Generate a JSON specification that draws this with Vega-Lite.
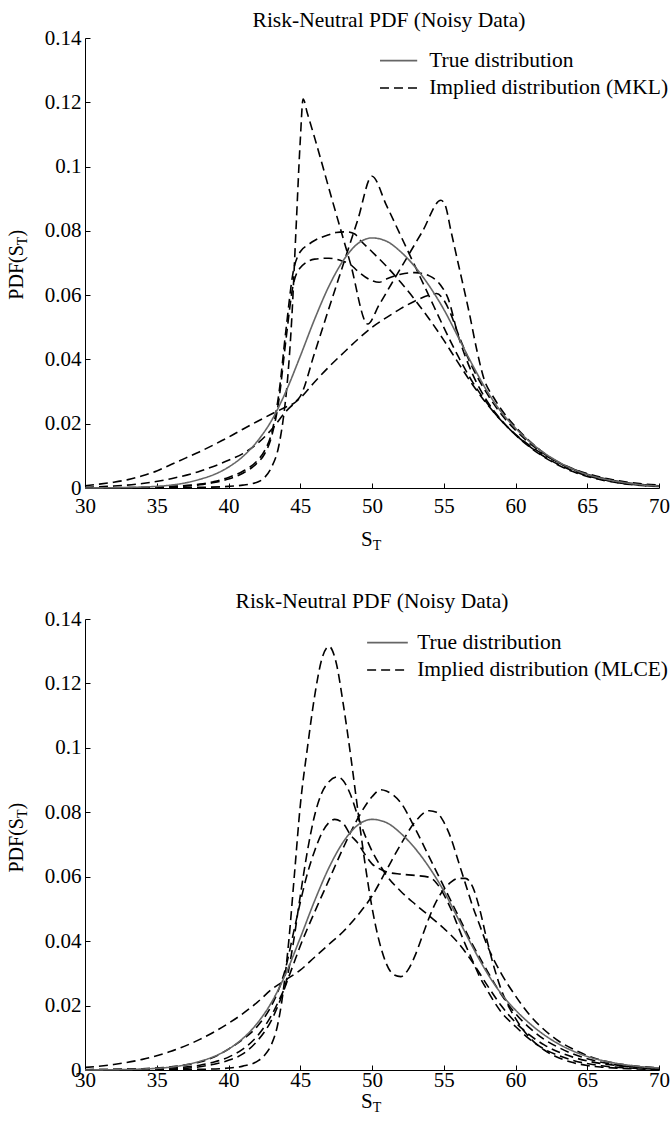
{
"$schema": "https://vega.github.io/schema/vega-lite/v6.json",
"background": "white",
"padding": {"left": 7, "top": 9, "right": 0, "bottom": 0},
"bounds": "flush",
"spacing": 131,
"config": {
  "font": "Liberation Serif",
  "view": {"stroke": null},
  "axis": {"grid": false, "domainColor": "#000000", "tickColor": "#000000", "labelColor": "#000000", "labelFont": "Liberation Serif", "labelFontSize": 21, "domainWidth": 1, "tickWidth": 1, "labelFlush": false},
  "title": {"font": "Liberation Serif", "fontSize": 21.5, "fontWeight": "normal", "color": "#000000", "frame": "group"},
  "text": {"font": "Liberation Serif", "color": "#000000"}
},
"datasets": {
"mkl": [
{"curve":"c1","S":30,"pdf":0},{"curve":"c1","S":36,"pdf":0.0001},{"curve":"c1","S":38,"pdf":0.0002},{"curve":"c1","S":40,"pdf":0.0005},{"curve":"c1","S":41,"pdf":0.0009},{"curve":"c1","S":42,"pdf":0.0018},{"curve":"c1","S":42.5,"pdf":0.0032},{"curve":"c1","S":43,"pdf":0.0065},{"curve":"c1","S":43.5,"pdf":0.013},{"curve":"c1","S":43.8,"pdf":0.021},{"curve":"c1","S":44.1,"pdf":0.033},{"curve":"c1","S":44.4,"pdf":0.052},{"curve":"c1","S":44.7,"pdf":0.08},{"curve":"c1","S":45,"pdf":0.108},{"curve":"c1","S":45.2,"pdf":0.121},{"curve":"c1","S":45.5,"pdf":0.1165},{"curve":"c1","S":46,"pdf":0.109},{"curve":"c1","S":47.2,"pdf":0.09},{"curve":"c1","S":48.5,"pdf":0.0698},{"curve":"c1","S":49.7,"pdf":0.051},{"curve":"c1","S":50.5,"pdf":0.057},{"curve":"c1","S":52,"pdf":0.0684},{"curve":"c1","S":53.5,"pdf":0.0797},{"curve":"c1","S":54.8,"pdf":0.0895},{"curve":"c1","S":55.1,"pdf":0.088},{"curve":"c1","S":55.5,"pdf":0.08},{"curve":"c1","S":56,"pdf":0.07},{"curve":"c1","S":56.8,"pdf":0.054},{"curve":"c1","S":57.3,"pdf":0.043},{"curve":"c1","S":57.8,"pdf":0.034},{"curve":"c1","S":58.5,"pdf":0.028},{"curve":"c1","S":59,"pdf":0.0245},{"curve":"c1","S":60,"pdf":0.019},{"curve":"c1","S":61,"pdf":0.0145},{"curve":"c1","S":62,"pdf":0.0108},{"curve":"c1","S":63,"pdf":0.0079},{"curve":"c1","S":64,"pdf":0.0057},{"curve":"c1","S":65,"pdf":0.004},{"curve":"c1","S":66,"pdf":0.0028},{"curve":"c1","S":67,"pdf":0.0019},{"curve":"c1","S":68,"pdf":0.0013},{"curve":"c1","S":69,"pdf":0.0009},{"curve":"c1","S":70,"pdf":0.0006},
{"curve":"c2","S":30,"pdf":0.0002},{"curve":"c2","S":32,"pdf":0.0006},{"curve":"c2","S":34,"pdf":0.0014},{"curve":"c2","S":36,"pdf":0.0029},{"curve":"c2","S":38,"pdf":0.0052},{"curve":"c2","S":39,"pdf":0.0068},{"curve":"c2","S":40,"pdf":0.0086},{"curve":"c2","S":41,"pdf":0.0107},{"curve":"c2","S":42,"pdf":0.0138},{"curve":"c2","S":43,"pdf":0.0182},{"curve":"c2","S":44,"pdf":0.0238},{"curve":"c2","S":44.6,"pdf":0.0265},{"curve":"c2","S":45,"pdf":0.0285},{"curve":"c2","S":46,"pdf":0.042},{"curve":"c2","S":47,"pdf":0.0559},{"curve":"c2","S":48,"pdf":0.0696},{"curve":"c2","S":49,"pdf":0.0833},{"curve":"c2","S":50,"pdf":0.097},{"curve":"c2","S":51,"pdf":0.088},{"curve":"c2","S":52,"pdf":0.0785},{"curve":"c2","S":53,"pdf":0.069},{"curve":"c2","S":54,"pdf":0.0595},{"curve":"c2","S":55,"pdf":0.05},{"curve":"c2","S":56,"pdf":0.041},{"curve":"c2","S":57,"pdf":0.033},{"curve":"c2","S":58,"pdf":0.0265},{"curve":"c2","S":59,"pdf":0.021},{"curve":"c2","S":60,"pdf":0.0167},{"curve":"c2","S":61,"pdf":0.0132},{"curve":"c2","S":62,"pdf":0.0103},{"curve":"c2","S":63,"pdf":0.0079},{"curve":"c2","S":64,"pdf":0.0059},{"curve":"c2","S":65,"pdf":0.0043},{"curve":"c2","S":66,"pdf":0.0031},{"curve":"c2","S":67,"pdf":0.0022},{"curve":"c2","S":68,"pdf":0.0015},{"curve":"c2","S":69,"pdf":0.001},{"curve":"c2","S":70,"pdf":0.0007},
{"curve":"c3","S":30,"pdf":0},{"curve":"c3","S":34,"pdf":0.0002},{"curve":"c3","S":36,"pdf":0.0005},{"curve":"c3","S":38,"pdf":0.0012},{"curve":"c3","S":39,"pdf":0.002},{"curve":"c3","S":40,"pdf":0.0033},{"curve":"c3","S":41,"pdf":0.0052},{"curve":"c3","S":42,"pdf":0.0085},{"curve":"c3","S":42.5,"pdf":0.0115},{"curve":"c3","S":43,"pdf":0.017},{"curve":"c3","S":43.5,"pdf":0.029},{"curve":"c3","S":44,"pdf":0.049},{"curve":"c3","S":44.5,"pdf":0.067},{"curve":"c3","S":45,"pdf":0.0735},{"curve":"c3","S":45.5,"pdf":0.0755},{"curve":"c3","S":46,"pdf":0.077},{"curve":"c3","S":47,"pdf":0.0788},{"curve":"c3","S":47.5,"pdf":0.0795},{"curve":"c3","S":48.2,"pdf":0.0797},{"curve":"c3","S":48.8,"pdf":0.079},{"curve":"c3","S":49.2,"pdf":0.077},{"curve":"c3","S":50,"pdf":0.0735},{"curve":"c3","S":51,"pdf":0.069},{"curve":"c3","S":52,"pdf":0.064},{"curve":"c3","S":53,"pdf":0.0585},{"curve":"c3","S":54,"pdf":0.0525},{"curve":"c3","S":55,"pdf":0.046},{"curve":"c3","S":56,"pdf":0.039},{"curve":"c3","S":57,"pdf":0.0322},{"curve":"c3","S":58,"pdf":0.0262},{"curve":"c3","S":59,"pdf":0.021},{"curve":"c3","S":60,"pdf":0.0166},{"curve":"c3","S":61,"pdf":0.0129},{"curve":"c3","S":62,"pdf":0.0098},{"curve":"c3","S":63,"pdf":0.0073},{"curve":"c3","S":64,"pdf":0.0053},{"curve":"c3","S":65,"pdf":0.0038},{"curve":"c3","S":66,"pdf":0.0027},{"curve":"c3","S":67,"pdf":0.0018},{"curve":"c3","S":68,"pdf":0.0012},{"curve":"c3","S":69,"pdf":0.0008},{"curve":"c3","S":70,"pdf":0.0005},
{"curve":"c4","S":30,"pdf":0},{"curve":"c4","S":34,"pdf":0.0001},{"curve":"c4","S":36,"pdf":0.0004},{"curve":"c4","S":38,"pdf":0.001},{"curve":"c4","S":39,"pdf":0.0017},{"curve":"c4","S":40,"pdf":0.0028},{"curve":"c4","S":41,"pdf":0.0046},{"curve":"c4","S":42,"pdf":0.0078},{"curve":"c4","S":42.5,"pdf":0.0105},{"curve":"c4","S":43,"pdf":0.016},{"curve":"c4","S":43.5,"pdf":0.027},{"curve":"c4","S":44,"pdf":0.046},{"curve":"c4","S":44.5,"pdf":0.063},{"curve":"c4","S":45,"pdf":0.0685},{"curve":"c4","S":46,"pdf":0.0712},{"curve":"c4","S":47,"pdf":0.0715},{"curve":"c4","S":48,"pdf":0.0705},{"curve":"c4","S":48.5,"pdf":0.0695},{"curve":"c4","S":49,"pdf":0.0675},{"curve":"c4","S":50,"pdf":0.0645},{"curve":"c4","S":50.5,"pdf":0.064},{"curve":"c4","S":51,"pdf":0.065},{"curve":"c4","S":52,"pdf":0.0665},{"curve":"c4","S":53,"pdf":0.067},{"curve":"c4","S":54,"pdf":0.066},{"curve":"c4","S":54.8,"pdf":0.063},{"curve":"c4","S":55.3,"pdf":0.059},{"curve":"c4","S":56,"pdf":0.0475},{"curve":"c4","S":57,"pdf":0.0355},{"curve":"c4","S":58,"pdf":0.0272},{"curve":"c4","S":59,"pdf":0.0212},{"curve":"c4","S":60,"pdf":0.0165},{"curve":"c4","S":61,"pdf":0.0127},{"curve":"c4","S":62,"pdf":0.0096},{"curve":"c4","S":63,"pdf":0.0071},{"curve":"c4","S":64,"pdf":0.0051},{"curve":"c4","S":65,"pdf":0.0036},{"curve":"c4","S":66,"pdf":0.0025},{"curve":"c4","S":67,"pdf":0.0017},{"curve":"c4","S":68,"pdf":0.0011},{"curve":"c4","S":69,"pdf":0.0007},{"curve":"c4","S":70,"pdf":0.0005},
{"curve":"c5","S":30,"pdf":0.0007},{"curve":"c5","S":31,"pdf":0.0012},{"curve":"c5","S":32,"pdf":0.0018},{"curve":"c5","S":33,"pdf":0.0026},{"curve":"c5","S":34,"pdf":0.0038},{"curve":"c5","S":35,"pdf":0.0053},{"curve":"c5","S":36,"pdf":0.0073},{"curve":"c5","S":37,"pdf":0.0093},{"curve":"c5","S":38,"pdf":0.0113},{"curve":"c5","S":39,"pdf":0.0135},{"curve":"c5","S":40,"pdf":0.0158},{"curve":"c5","S":41,"pdf":0.0183},{"curve":"c5","S":42,"pdf":0.0207},{"curve":"c5","S":43,"pdf":0.023},{"curve":"c5","S":44,"pdf":0.0252},{"curve":"c5","S":44.6,"pdf":0.0265},{"curve":"c5","S":45,"pdf":0.028},{"curve":"c5","S":46,"pdf":0.033},{"curve":"c5","S":47,"pdf":0.0377},{"curve":"c5","S":48,"pdf":0.042},{"curve":"c5","S":49,"pdf":0.0462},{"curve":"c5","S":50,"pdf":0.05},{"curve":"c5","S":51,"pdf":0.053},{"curve":"c5","S":52,"pdf":0.0558},{"curve":"c5","S":53,"pdf":0.0582},{"curve":"c5","S":54,"pdf":0.06},{"curve":"c5","S":54.5,"pdf":0.0605},{"curve":"c5","S":55,"pdf":0.0585},{"curve":"c5","S":55.5,"pdf":0.054},{"curve":"c5","S":56,"pdf":0.048},{"curve":"c5","S":57,"pdf":0.0375},{"curve":"c5","S":58,"pdf":0.0295},{"curve":"c5","S":59,"pdf":0.023},{"curve":"c5","S":60,"pdf":0.018},{"curve":"c5","S":61,"pdf":0.0139},{"curve":"c5","S":62,"pdf":0.0106},{"curve":"c5","S":63,"pdf":0.008},{"curve":"c5","S":64,"pdf":0.006},{"curve":"c5","S":65,"pdf":0.0045},{"curve":"c5","S":66,"pdf":0.0033},{"curve":"c5","S":67,"pdf":0.0024},{"curve":"c5","S":68,"pdf":0.0017},{"curve":"c5","S":69,"pdf":0.0012},{"curve":"c5","S":70,"pdf":0.0009},
{"curve":"True","S":30,"pdf":0},{"curve":"True","S":32,"pdf":0.0001},{"curve":"True","S":34,"pdf":0.0003},{"curve":"True","S":35,"pdf":0.0005},{"curve":"True","S":36,"pdf":0.0009},{"curve":"True","S":37,"pdf":0.0016},{"curve":"True","S":38,"pdf":0.0027},{"curve":"True","S":39,"pdf":0.0042},{"curve":"True","S":40,"pdf":0.0065},{"curve":"True","S":41,"pdf":0.0098},{"curve":"True","S":42,"pdf":0.0145},{"curve":"True","S":43,"pdf":0.021},{"curve":"True","S":44,"pdf":0.03},{"curve":"True","S":45,"pdf":0.041},{"curve":"True","S":46,"pdf":0.0525},{"curve":"True","S":47,"pdf":0.0628},{"curve":"True","S":48,"pdf":0.0708},{"curve":"True","S":49,"pdf":0.076},{"curve":"True","S":50,"pdf":0.0778},{"curve":"True","S":51,"pdf":0.0768},{"curve":"True","S":52,"pdf":0.0735},{"curve":"True","S":53,"pdf":0.0688},{"curve":"True","S":54,"pdf":0.0628},{"curve":"True","S":55,"pdf":0.0556},{"curve":"True","S":56,"pdf":0.047},{"curve":"True","S":57,"pdf":0.0383},{"curve":"True","S":58,"pdf":0.0303},{"curve":"True","S":59,"pdf":0.0237},{"curve":"True","S":60,"pdf":0.0186},{"curve":"True","S":61,"pdf":0.0144},{"curve":"True","S":62,"pdf":0.0109},{"curve":"True","S":63,"pdf":0.0081},{"curve":"True","S":64,"pdf":0.0059},{"curve":"True","S":65,"pdf":0.0042},{"curve":"True","S":66,"pdf":0.003},{"curve":"True","S":67,"pdf":0.0021},{"curve":"True","S":68,"pdf":0.0014},{"curve":"True","S":69,"pdf":0.0009},{"curve":"True","S":70,"pdf":0.0006}
],
"mlce": [
{"curve":"c1","S":30,"pdf":0},{"curve":"c1","S":36,"pdf":0.0001},{"curve":"c1","S":38,"pdf":0.0002},{"curve":"c1","S":40,"pdf":0.0006},{"curve":"c1","S":41,"pdf":0.0012},{"curve":"c1","S":42,"pdf":0.0027},{"curve":"c1","S":42.5,"pdf":0.0045},{"curve":"c1","S":43,"pdf":0.008},{"curve":"c1","S":43.4,"pdf":0.0135},{"curve":"c1","S":43.8,"pdf":0.024},{"curve":"c1","S":44.2,"pdf":0.04},{"curve":"c1","S":44.6,"pdf":0.061},{"curve":"c1","S":45,"pdf":0.082},{"curve":"c1","S":45.5,"pdf":0.1},{"curve":"c1","S":46,"pdf":0.116},{"curve":"c1","S":46.5,"pdf":0.1275},{"curve":"c1","S":47,"pdf":0.1315},{"curve":"c1","S":47.5,"pdf":0.1265},{"curve":"c1","S":48,"pdf":0.1135},{"curve":"c1","S":48.5,"pdf":0.098},{"curve":"c1","S":49,"pdf":0.081},{"curve":"c1","S":49.5,"pdf":0.0645},{"curve":"c1","S":50,"pdf":0.0505},{"curve":"c1","S":50.5,"pdf":0.04},{"curve":"c1","S":51,"pdf":0.033},{"curve":"c1","S":51.5,"pdf":0.0296},{"curve":"c1","S":52,"pdf":0.029},{"curve":"c1","S":52.5,"pdf":0.031},{"curve":"c1","S":53,"pdf":0.0355},{"curve":"c1","S":53.5,"pdf":0.0415},{"curve":"c1","S":54,"pdf":0.0475},{"curve":"c1","S":54.5,"pdf":0.0525},{"curve":"c1","S":55,"pdf":0.056},{"curve":"c1","S":55.5,"pdf":0.0583},{"curve":"c1","S":56,"pdf":0.0595},{"curve":"c1","S":56.5,"pdf":0.0595},{"curve":"c1","S":57,"pdf":0.057},{"curve":"c1","S":57.5,"pdf":0.05},{"curve":"c1","S":58,"pdf":0.0405},{"curve":"c1","S":58.5,"pdf":0.032},{"curve":"c1","S":59,"pdf":0.025},{"curve":"c1","S":60,"pdf":0.016},{"curve":"c1","S":61,"pdf":0.01},{"curve":"c1","S":62,"pdf":0.0062},{"curve":"c1","S":63,"pdf":0.0038},{"curve":"c1","S":64,"pdf":0.0023},{"curve":"c1","S":65,"pdf":0.0014},{"curve":"c1","S":66,"pdf":0.0009},{"curve":"c1","S":68,"pdf":0.0004},{"curve":"c1","S":70,"pdf":0.0002},
{"curve":"c2","S":30,"pdf":0.0001},{"curve":"c2","S":34,"pdf":0.0003},{"curve":"c2","S":36,"pdf":0.0006},{"curve":"c2","S":38,"pdf":0.0015},{"curve":"c2","S":39,"pdf":0.0025},{"curve":"c2","S":40,"pdf":0.004},{"curve":"c2","S":41,"pdf":0.0065},{"curve":"c2","S":42,"pdf":0.0105},{"curve":"c2","S":43,"pdf":0.017},{"curve":"c2","S":43.5,"pdf":0.0215},{"curve":"c2","S":44,"pdf":0.027},{"curve":"c2","S":44.5,"pdf":0.039},{"curve":"c2","S":45,"pdf":0.054},{"curve":"c2","S":45.5,"pdf":0.068},{"curve":"c2","S":46,"pdf":0.079},{"curve":"c2","S":46.5,"pdf":0.086},{"curve":"c2","S":47,"pdf":0.0895},{"curve":"c2","S":47.6,"pdf":0.091},{"curve":"c2","S":48,"pdf":0.0898},{"curve":"c2","S":48.5,"pdf":0.0855},{"curve":"c2","S":49,"pdf":0.079},{"curve":"c2","S":49.5,"pdf":0.073},{"curve":"c2","S":50,"pdf":0.068},{"curve":"c2","S":50.5,"pdf":0.064},{"curve":"c2","S":51,"pdf":0.0605},{"curve":"c2","S":52,"pdf":0.0555},{"curve":"c2","S":53,"pdf":0.0515},{"curve":"c2","S":54,"pdf":0.0478},{"curve":"c2","S":55,"pdf":0.044},{"curve":"c2","S":56,"pdf":0.0395},{"curve":"c2","S":57,"pdf":0.0335},{"curve":"c2","S":58,"pdf":0.0265},{"curve":"c2","S":59,"pdf":0.02},{"curve":"c2","S":60,"pdf":0.0148},{"curve":"c2","S":61,"pdf":0.0108},{"curve":"c2","S":62,"pdf":0.0078},{"curve":"c2","S":63,"pdf":0.0056},{"curve":"c2","S":64,"pdf":0.004},{"curve":"c2","S":65,"pdf":0.0028},{"curve":"c2","S":66,"pdf":0.002},{"curve":"c2","S":67,"pdf":0.0014},{"curve":"c2","S":68,"pdf":0.001},{"curve":"c2","S":70,"pdf":0.0005},
{"curve":"c3","S":30,"pdf":0},{"curve":"c3","S":34,"pdf":0.0001},{"curve":"c3","S":36,"pdf":0.0003},{"curve":"c3","S":38,"pdf":0.001},{"curve":"c3","S":39,"pdf":0.0018},{"curve":"c3","S":40,"pdf":0.003},{"curve":"c3","S":41,"pdf":0.005},{"curve":"c3","S":42,"pdf":0.009},{"curve":"c3","S":43,"pdf":0.0155},{"curve":"c3","S":43.5,"pdf":0.0205},{"curve":"c3","S":44,"pdf":0.0265},{"curve":"c3","S":44.5,"pdf":0.0325},{"curve":"c3","S":45,"pdf":0.0385},{"curve":"c3","S":46,"pdf":0.049},{"curve":"c3","S":47,"pdf":0.059},{"curve":"c3","S":48,"pdf":0.069},{"curve":"c3","S":49,"pdf":0.078},{"curve":"c3","S":50,"pdf":0.0848},{"curve":"c3","S":50.6,"pdf":0.087},{"curve":"c3","S":51,"pdf":0.0866},{"curve":"c3","S":52,"pdf":0.083},{"curve":"c3","S":53,"pdf":0.075},{"curve":"c3","S":54,"pdf":0.066},{"curve":"c3","S":55,"pdf":0.057},{"curve":"c3","S":56,"pdf":0.048},{"curve":"c3","S":57,"pdf":0.039},{"curve":"c3","S":58,"pdf":0.031},{"curve":"c3","S":59,"pdf":0.0235},{"curve":"c3","S":60,"pdf":0.0175},{"curve":"c3","S":61,"pdf":0.013},{"curve":"c3","S":62,"pdf":0.0095},{"curve":"c3","S":63,"pdf":0.007},{"curve":"c3","S":64,"pdf":0.005},{"curve":"c3","S":65,"pdf":0.0035},{"curve":"c3","S":66,"pdf":0.0024},{"curve":"c3","S":67,"pdf":0.0016},{"curve":"c3","S":68,"pdf":0.0011},{"curve":"c3","S":70,"pdf":0.0005},
{"curve":"c4","S":30,"pdf":0.0008},{"curve":"c4","S":32,"pdf":0.0017},{"curve":"c4","S":34,"pdf":0.0033},{"curve":"c4","S":36,"pdf":0.0058},{"curve":"c4","S":38,"pdf":0.0095},{"curve":"c4","S":40,"pdf":0.0145},{"curve":"c4","S":41,"pdf":0.0175},{"curve":"c4","S":42,"pdf":0.021},{"curve":"c4","S":43,"pdf":0.025},{"curve":"c4","S":44,"pdf":0.028},{"curve":"c4","S":45,"pdf":0.031},{"curve":"c4","S":46,"pdf":0.035},{"curve":"c4","S":47,"pdf":0.039},{"curve":"c4","S":48,"pdf":0.043},{"curve":"c4","S":49,"pdf":0.048},{"curve":"c4","S":50,"pdf":0.054},{"curve":"c4","S":51,"pdf":0.062},{"curve":"c4","S":52,"pdf":0.07},{"curve":"c4","S":53,"pdf":0.077},{"curve":"c4","S":54,"pdf":0.0805},{"curve":"c4","S":54.5,"pdf":0.08},{"curve":"c4","S":55,"pdf":0.077},{"curve":"c4","S":55.5,"pdf":0.072},{"curve":"c4","S":56,"pdf":0.065},{"curve":"c4","S":56.5,"pdf":0.058},{"curve":"c4","S":57,"pdf":0.051},{"curve":"c4","S":57.5,"pdf":0.045},{"curve":"c4","S":58,"pdf":0.039},{"curve":"c4","S":59,"pdf":0.03},{"curve":"c4","S":60,"pdf":0.023},{"curve":"c4","S":61,"pdf":0.017},{"curve":"c4","S":62,"pdf":0.0125},{"curve":"c4","S":63,"pdf":0.009},{"curve":"c4","S":64,"pdf":0.0065},{"curve":"c4","S":65,"pdf":0.0045},{"curve":"c4","S":66,"pdf":0.003},{"curve":"c4","S":67,"pdf":0.002},{"curve":"c4","S":68,"pdf":0.0014},{"curve":"c4","S":69,"pdf":0.001},{"curve":"c4","S":70,"pdf":0.0007},
{"curve":"c5","S":30,"pdf":0.0001},{"curve":"c5","S":34,"pdf":0.0004},{"curve":"c5","S":36,"pdf":0.001},{"curve":"c5","S":38,"pdf":0.0025},{"curve":"c5","S":39,"pdf":0.004},{"curve":"c5","S":40,"pdf":0.0065},{"curve":"c5","S":41,"pdf":0.0095},{"curve":"c5","S":42,"pdf":0.0135},{"curve":"c5","S":43,"pdf":0.02},{"curve":"c5","S":43.5,"pdf":0.025},{"curve":"c5","S":44,"pdf":0.032},{"curve":"c5","S":44.5,"pdf":0.042},{"curve":"c5","S":45,"pdf":0.052},{"curve":"c5","S":45.5,"pdf":0.061},{"curve":"c5","S":46,"pdf":0.068},{"curve":"c5","S":46.5,"pdf":0.0735},{"curve":"c5","S":47,"pdf":0.0768},{"curve":"c5","S":47.4,"pdf":0.0778},{"curve":"c5","S":48,"pdf":0.0765},{"curve":"c5","S":48.5,"pdf":0.073},{"curve":"c5","S":49,"pdf":0.0705},{"curve":"c5","S":49.5,"pdf":0.067},{"curve":"c5","S":50,"pdf":0.064},{"curve":"c5","S":50.5,"pdf":0.0625},{"curve":"c5","S":51,"pdf":0.0615},{"curve":"c5","S":52,"pdf":0.0608},{"curve":"c5","S":53,"pdf":0.0604},{"curve":"c5","S":54,"pdf":0.0598},{"curve":"c5","S":54.5,"pdf":0.058},{"curve":"c5","S":55,"pdf":0.0545},{"curve":"c5","S":55.5,"pdf":0.05},{"curve":"c5","S":56,"pdf":0.0445},{"curve":"c5","S":56.5,"pdf":0.039},{"curve":"c5","S":57,"pdf":0.034},{"curve":"c5","S":57.5,"pdf":0.029},{"curve":"c5","S":58,"pdf":0.025},{"curve":"c5","S":59,"pdf":0.018},{"curve":"c5","S":60,"pdf":0.0135},{"curve":"c5","S":61,"pdf":0.0095},{"curve":"c5","S":62,"pdf":0.0065},{"curve":"c5","S":63,"pdf":0.0045},{"curve":"c5","S":64,"pdf":0.003},{"curve":"c5","S":66,"pdf":0.0013},{"curve":"c5","S":68,"pdf":0.0006},{"curve":"c5","S":70,"pdf":0.0003},
{"curve":"True","S":30,"pdf":0},{"curve":"True","S":32,"pdf":0.0001},{"curve":"True","S":34,"pdf":0.0003},{"curve":"True","S":35,"pdf":0.0005},{"curve":"True","S":36,"pdf":0.0009},{"curve":"True","S":37,"pdf":0.0016},{"curve":"True","S":38,"pdf":0.0027},{"curve":"True","S":39,"pdf":0.0042},{"curve":"True","S":40,"pdf":0.0065},{"curve":"True","S":41,"pdf":0.0098},{"curve":"True","S":42,"pdf":0.0145},{"curve":"True","S":43,"pdf":0.021},{"curve":"True","S":44,"pdf":0.03},{"curve":"True","S":45,"pdf":0.041},{"curve":"True","S":46,"pdf":0.0525},{"curve":"True","S":47,"pdf":0.0628},{"curve":"True","S":48,"pdf":0.0708},{"curve":"True","S":49,"pdf":0.076},{"curve":"True","S":50,"pdf":0.0778},{"curve":"True","S":51,"pdf":0.0768},{"curve":"True","S":52,"pdf":0.0735},{"curve":"True","S":53,"pdf":0.0688},{"curve":"True","S":54,"pdf":0.0628},{"curve":"True","S":55,"pdf":0.0556},{"curve":"True","S":56,"pdf":0.047},{"curve":"True","S":57,"pdf":0.0383},{"curve":"True","S":58,"pdf":0.0303},{"curve":"True","S":59,"pdf":0.0237},{"curve":"True","S":60,"pdf":0.0186},{"curve":"True","S":61,"pdf":0.0144},{"curve":"True","S":62,"pdf":0.0109},{"curve":"True","S":63,"pdf":0.0081},{"curve":"True","S":64,"pdf":0.0059},{"curve":"True","S":65,"pdf":0.0042},{"curve":"True","S":66,"pdf":0.003},{"curve":"True","S":67,"pdf":0.0021},{"curve":"True","S":68,"pdf":0.0014},{"curve":"True","S":69,"pdf":0.0009},{"curve":"True","S":70,"pdf":0.0006}
]
},
"vconcat": [
{
  "width": 574, "height": 450,
  "title": {"text": "Risk-Neutral PDF (Noisy Data)", "offset": -4, "dx": 17},
  "layer": [
    {"data": {"name": "mkl"}, "mark": {"type": "line", "interpolate": "monotone", "strokeWidth": 1.6},
     "encoding": {
       "x": {"field": "S", "type": "quantitative", "scale": {"domain": [30, 70], "nice": false, "zero": false}, "axis": {"values": [30,35,40,45,50,55,60,65,70], "format": "d", "tickSize": -5, "labelPadding": 12, "title": null}},
       "y": {"field": "pdf", "type": "quantitative", "scale": {"domain": [0, 0.14], "nice": false}, "axis": {"values": [0,0.02,0.04,0.06,0.08,0.1,0.12,0.14], "format": "~g", "tickSize": -5, "labelPadding": 9, "title": null}},
       "detail": {"field": "curve"},
       "color": {"field": "curve", "type": "nominal", "scale": {"domain": ["True","c1","c2","c3","c4","c5"], "range": ["#666666","#000000","#000000","#000000","#000000","#000000"]}, "legend": null},
       "strokeDash": {"field": "curve", "type": "nominal", "scale": {"domain": ["True","c1","c2","c3","c4","c5"], "range": [[1,0],[9,5],[9,5],[9,5],[9,5],[9,5]]}, "legend": null}
     }},
    {"data": {"values": [{}]}, "mark": {"type": "rule", "color": "#666666", "strokeWidth": 1.6},
     "encoding": {"x": {"datum": 50.557, "type": "quantitative"}, "x2": {"datum": 53.15}, "y": {"datum": 0.13295, "type": "quantitative"}}},
    {"data": {"values": [{}]}, "mark": {"type": "rule", "color": "#000000", "strokeWidth": 1.6, "strokeDash": [9,5]},
     "encoding": {"x": {"datum": 50.557, "type": "quantitative"}, "x2": {"datum": 53.15}, "y": {"datum": 0.12446, "type": "quantitative"}}},
    {"data": {"values": [{}]}, "mark": {"type": "text", "align": "left", "baseline": "middle", "fontSize": 21.5},
     "encoding": {"x": {"datum": 53.986, "type": "quantitative"}, "y": {"datum": 0.13295, "type": "quantitative"}, "text": {"value": "True distribution"}}},
    {"data": {"values": [{}]}, "mark": {"type": "text", "align": "left", "baseline": "middle", "fontSize": 21.5},
     "encoding": {"x": {"datum": 53.986, "type": "quantitative"}, "y": {"datum": 0.12446, "type": "quantitative"}, "text": {"value": "Implied distribution (MKL)"}}},
    {"data": {"values": [{}]}, "mark": {"type": "text", "align": "left", "baseline": "alphabetic", "fontSize": 21},
     "encoding": {"x": {"datum": 49.233, "type": "quantitative"}, "y": {"datum": -0.01817, "type": "quantitative"}, "text": {"value": "S"}}},
    {"data": {"values": [{}]}, "mark": {"type": "text", "align": "left", "baseline": "alphabetic", "fontSize": 14, "dx": 11.7, "dy": 4},
     "encoding": {"x": {"datum": 49.233, "type": "quantitative"}, "y": {"datum": -0.01817, "type": "quantitative"}, "text": {"value": "T"}}},
    {"data": {"values": [{}]}, "mark": {"type": "text", "align": "left", "baseline": "alphabetic", "fontSize": 20, "angle": 270},
     "encoding": {"x": {"datum": 25.714, "type": "quantitative"}, "y": {"datum": 0.05859, "type": "quantitative"}, "text": {"value": "PDF(S"}}},
    {"data": {"values": [{}]}, "mark": {"type": "text", "align": "left", "baseline": "alphabetic", "fontSize": 14, "angle": 270, "dx": 54.5, "dy": 4},
     "encoding": {"x": {"datum": 25.714, "type": "quantitative"}, "y": {"datum": 0.05859, "type": "quantitative"}, "text": {"value": "T"}}},
    {"data": {"values": [{}]}, "mark": {"type": "text", "align": "left", "baseline": "alphabetic", "fontSize": 20, "angle": 270, "dx": 63.1},
     "encoding": {"x": {"datum": 25.714, "type": "quantitative"}, "y": {"datum": 0.05859, "type": "quantitative"}, "text": {"value": ")"}}}
  ]
},
{
  "width": 574, "height": 451,
  "title": {"text": "Risk-Neutral PDF (Noisy Data)", "offset": -4},
  "layer": [
    {"data": {"name": "mlce"}, "mark": {"type": "line", "interpolate": "monotone", "strokeWidth": 1.6},
     "encoding": {
       "x": {"field": "S", "type": "quantitative", "scale": {"domain": [30, 70], "nice": false, "zero": false}, "axis": {"values": [30,35,40,45,50,55,60,65,70], "format": "d", "tickSize": -5, "labelPadding": 4, "title": null}},
       "y": {"field": "pdf", "type": "quantitative", "scale": {"domain": [0, 0.14], "nice": false}, "axis": {"values": [0,0.02,0.04,0.06,0.08,0.1,0.12,0.14], "format": "~g", "tickSize": -5, "labelPadding": 9, "title": null}},
       "detail": {"field": "curve"},
       "color": {"field": "curve", "type": "nominal", "scale": {"domain": ["True","c1","c2","c3","c4","c5"], "range": ["#666666","#000000","#000000","#000000","#000000","#000000"]}, "legend": null},
       "strokeDash": {"field": "curve", "type": "nominal", "scale": {"domain": ["True","c1","c2","c3","c4","c5"], "range": [[1,0],[9,5],[9,5],[9,5],[9,5],[9,5]]}, "legend": null}
     }},
    {"data": {"values": [{}]}, "mark": {"type": "rule", "color": "#666666", "strokeWidth": 1.6},
     "encoding": {"x": {"datum": 49.659, "type": "quantitative"}, "x2": {"datum": 52.495}, "y": {"datum": 0.13266, "type": "quantitative"}}},
    {"data": {"values": [{}]}, "mark": {"type": "rule", "color": "#000000", "strokeWidth": 1.6, "strokeDash": [9,5]},
     "encoding": {"x": {"datum": 49.659, "type": "quantitative"}, "x2": {"datum": 52.495}, "y": {"datum": 0.12418, "type": "quantitative"}}},
    {"data": {"values": [{}]}, "mark": {"type": "text", "align": "left", "baseline": "middle", "fontSize": 21.5},
     "encoding": {"x": {"datum": 53.15, "type": "quantitative"}, "y": {"datum": 0.13266, "type": "quantitative"}, "text": {"value": "True distribution"}}},
    {"data": {"values": [{}]}, "mark": {"type": "text", "align": "left", "baseline": "middle", "fontSize": 21.5},
     "encoding": {"x": {"datum": 53.15, "type": "quantitative"}, "y": {"datum": 0.12418, "type": "quantitative"}, "text": {"value": "Implied distribution (MLCE)"}}},
    {"data": {"values": [{}]}, "mark": {"type": "text", "align": "left", "baseline": "alphabetic", "fontSize": 21},
     "encoding": {"x": {"datum": 49.233, "type": "quantitative"}, "y": {"datum": -0.01189, "type": "quantitative"}, "text": {"value": "S"}}},
    {"data": {"values": [{}]}, "mark": {"type": "text", "align": "left", "baseline": "alphabetic", "fontSize": 14, "dx": 11.7, "dy": 4},
     "encoding": {"x": {"datum": 49.233, "type": "quantitative"}, "y": {"datum": -0.01189, "type": "quantitative"}, "text": {"value": "T"}}},
    {"data": {"values": [{}]}, "mark": {"type": "text", "align": "left", "baseline": "alphabetic", "fontSize": 20, "angle": 270},
     "encoding": {"x": {"datum": 25.714, "type": "quantitative"}, "y": {"datum": 0.0613, "type": "quantitative"}, "text": {"value": "PDF(S"}}},
    {"data": {"values": [{}]}, "mark": {"type": "text", "align": "left", "baseline": "alphabetic", "fontSize": 14, "angle": 270, "dx": 54.5, "dy": 4},
     "encoding": {"x": {"datum": 25.714, "type": "quantitative"}, "y": {"datum": 0.0613, "type": "quantitative"}, "text": {"value": "T"}}},
    {"data": {"values": [{}]}, "mark": {"type": "text", "align": "left", "baseline": "alphabetic", "fontSize": 20, "angle": 270, "dx": 63.1},
     "encoding": {"x": {"datum": 25.714, "type": "quantitative"}, "y": {"datum": 0.0613, "type": "quantitative"}, "text": {"value": ")"}}}
  ]
}
]
}
